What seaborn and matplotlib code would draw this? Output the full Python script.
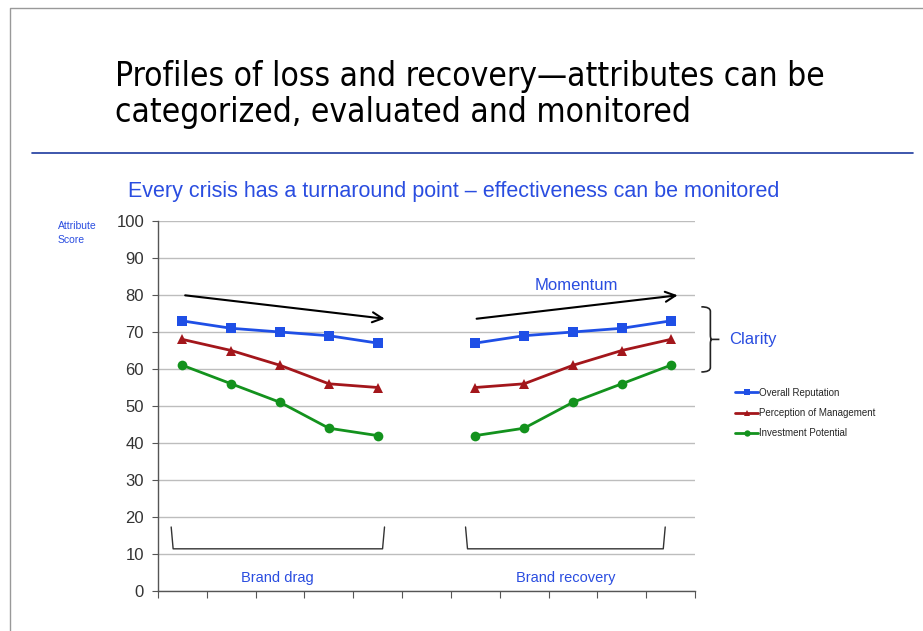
import pandas as pd
import numpy as np
import seaborn as sns
import matplotlib.pyplot as plt
from matplotlib.path import Path
from matplotlib.patches import PathPatch

# data
steps_drag = [0, 1, 2, 3, 4]
steps_recovery = [6, 7, 8, 9, 10]
overall_reputation = [73, 71, 70, 69, 67, 67, 69, 70, 71, 73]
perception_management = [68, 65, 61, 56, 55, 55, 56, 61, 65, 68]
investment_potential = [61, 56, 51, 44, 42, 42, 44, 51, 56, 61]
series_names = ['Overall Reputation', 'Perception of Management', 'Investment Potential']
y_ticks = [0, 10, 20, 30, 40, 50, 60, 70, 80, 90, 100]

rows = []
for name, vals in zip(series_names, [overall_reputation, perception_management, investment_potential]):
    for i, x in enumerate(steps_drag + steps_recovery):
        rows.append({'Step': x, 'Score': vals[i], 'Series': name,
                     'segment': 'drag' if x < 5 else 'recovery'})
df = pd.DataFrame(rows)

sns.set_style('white')
plt.rcParams['font.family'] = ['Liberation Sans', 'DejaVu Sans']

blue_txt = '#2a4de0'
palette = {'Overall Reputation': '#1f4fe6',
           'Perception of Management': '#a3161b',
           'Investment Potential': '#13921d'}
markers = {'Overall Reputation': 's',
           'Perception of Management': '^',
           'Investment Potential': 'o'}

fig = plt.figure(figsize=(9.23, 6.31), dpi=100)
ax = fig.add_axes([158 / 923, 1 - 591 / 631, 537 / 923, 370 / 631])

# two separate segments per series (drag / recovery), gap in the middle
sns.lineplot(data=df, x='Step', y='Score', hue='Series', style='Series',
             units='segment', estimator=None, palette=palette,
             markers=markers, dashes=False, linewidth=2, markersize=7,
             markeredgewidth=0, ax=ax)

ax.set_xlim(-0.5, 10.5)
ax.set_ylim(0, 100)
ax.set_yticks(y_ticks)
ax.set_xticks(np.arange(-0.5, 11, 1))
ax.set_xticklabels([])
ax.set_xlabel('')
ax.set_ylabel('')
ax.yaxis.grid(True, color='#bdbdbd', linewidth=1)
ax.set_axisbelow(True)
for s in ['top', 'right']:
    ax.spines[s].set_visible(False)
for s in ['left', 'bottom']:
    ax.spines[s].set_color('#555555')
    ax.spines[s].set_linewidth(1)
ax.tick_params(axis='y', left=True, length=4, color='#555555', labelsize=12,
               labelcolor='#333333', pad=6)
ax.tick_params(axis='x', bottom=True, length=5, color='#555555')

# legend off to the right
handles, labels = ax.get_legend_handles_labels()
fig.legend(handles, labels, loc='upper left', bbox_to_anchor=(730 / 923, 1 - 383 / 631),
           frameon=False, fontsize=7, handlelength=2.4, handletextpad=0.1,
           labelspacing=1.05, borderpad=0, markerscale=0.65)
ax.get_legend().remove()

# arrows
ax.annotate('', xy=(4.2, 73.5), xytext=(0.0, 80),
            arrowprops=dict(arrowstyle='->', color='black', lw=1.5, mutation_scale=18))
ax.annotate('', xy=(10.2, 80), xytext=(5.97, 73.5),
            arrowprops=dict(arrowstyle='->', color='black', lw=1.5, mutation_scale=18),
            annotation_clip=False)
ax.text(8.06, 82.6, 'Momentum', color=blue_txt, fontsize=12, ha='center', va='center')

# bottom brackets
for x0, x1, lab in [(-0.23, 4.14, 'Brand drag'), (5.8, 9.89, 'Brand recovery')]:
    ax.plot([x0, x0 + 0.04, x1 - 0.04, x1], [17.3, 11.4, 11.4, 17.3], color='#333333', lw=1)
    ax.text((x0 + x1) / 2, 3.5, lab, color=blue_txt, fontsize=10.5, ha='center', va='center')

# curly brace for clarity
bx, tip = 10.63, 11.0
ytop, ybot = 76.8, 59.2
ymid = (ytop + ybot) / 2
w = tip - bx
verts = [(bx, ytop), (bx + w * 0.5, ytop), (bx + w * 0.5, ytop - 1.2),
         (bx + w * 0.5, ymid + 1.2), (bx + w * 0.5, ymid + 0.3), (bx + w * 0.55, ymid),
         (tip, ymid),
         (bx + w * 0.55, ymid), (bx + w * 0.5, ymid - 0.3), (bx + w * 0.5, ymid - 1.2),
         (bx + w * 0.5, ybot + 1.2), (bx + w * 0.5, ybot), (bx, ybot)]
codes = [Path.MOVETO, Path.CURVE3, Path.CURVE3, Path.LINETO, Path.CURVE3, Path.CURVE3,
         Path.LINETO, Path.MOVETO, Path.CURVE3, Path.CURVE3, Path.LINETO, Path.CURVE3, Path.CURVE3]
ax.add_patch(PathPatch(Path(verts, codes), fill=False, color='#222222', lw=1.2, clip_on=False))
ax.text(11.2, ymid, 'Clarity', color=blue_txt, fontsize=12, ha='left', va='center')

# y-axis label
fig.text(58 / 923, 1 - 233 / 631, 'Attribute\nScore', color=blue_txt, fontsize=7.5,
         ha='left', va='center', linespacing=1.4)

# slide text
title_font = dict(family=['DejaVu Sans'], fontstretch='condensed', fontsize=24, color='black')
fig.text(115 / 923, 1 - 86 / 631, 'Profiles of loss and recovery\u2014attributes can be',
         ha='left', va='baseline', **title_font)
fig.text(115 / 923, 1 - 122 / 631, 'categorized, evaluated and monitored',
         ha='left', va='baseline', **title_font)
fig.text(128 / 923, 1 - 192 / 631,
         'Every crisis has a turnaround point \u2013 effectiveness can be monitored',
         color=blue_txt, fontsize=15.5, ha='left', va='center')
fig.add_artist(plt.Line2D([32 / 923, 913 / 923], [1 - 153 / 631] * 2, color='#1c3a9e', lw=1.2))
fig.add_artist(plt.Line2D([10 / 923, 10 / 923, 1], [0, 1 - 8 / 631, 1 - 8 / 631],
                          color='#999999', lw=1))

plt.savefig('out.png', dpi=100)
